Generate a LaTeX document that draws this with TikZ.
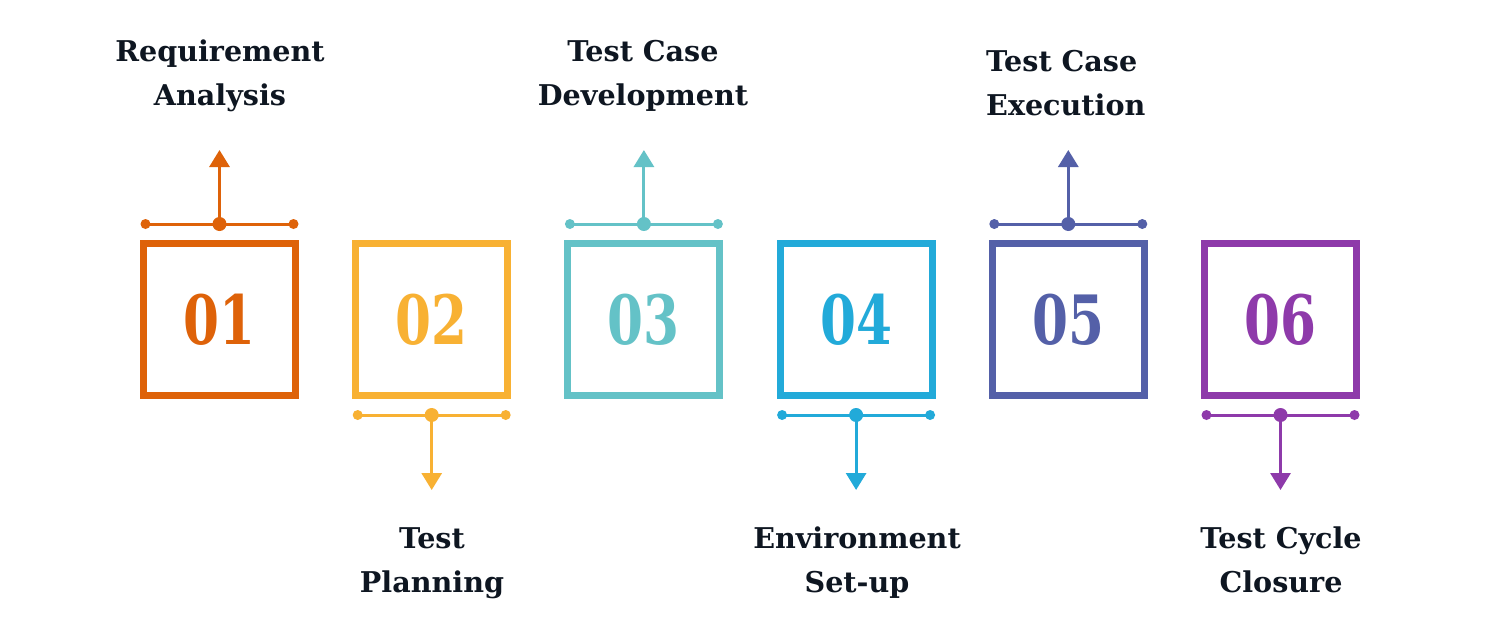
\documentclass[tikz,border=0pt]{standalone}
\usepackage{fontspec}
\usetikzlibrary{arrows.meta}
\newfontfamily\labfont{DejaVu Serif}
\newfontfamily\numfont{DejaVu Serif}[FakeStretch=0.76]
\definecolor{cA}{HTML}{DE6209}
\definecolor{cB}{HTML}{F8B133}
\definecolor{cC}{HTML}{64C2C7}
\definecolor{cD}{HTML}{22AAD9}
\definecolor{cE}{HTML}{5460A8}
\definecolor{cF}{HTML}{8E3AAA}
\definecolor{txt}{HTML}{0E1621}
\begin{document}
\begin{tikzpicture}[x=1pt,y=-1pt,
  stepbox/.style={draw=#1, line width=7pt, minimum size=152pt, inner sep=0pt, outer sep=0pt,
    text=#1, font=\numfont\bfseries\fontsize{68}{68}\selectfont},
  bar/.style={draw=#1, line width=3pt},
  arr/.style={draw=#1, line width=3pt, -{Triangle[length=17pt,width=20pt]}},
  lab/.style={text=txt, align=center, inner sep=0pt, font=\labfont\bfseries\fontsize{28.6}{43.5}\selectfont}
]
\useasboundingbox (0,0) rectangle (1500,635);
\fill[white] (0,0) rectangle (1500,635);

\foreach \i/\c in {1/cA,2/cB,3/cC,4/cD,5/cE,6/cF}{
  \pgfmathsetmacro{\cx}{219.5+212.2*(\i-1)}
  \node[stepbox=\c] (b\i) at (\cx,319.5) {0\i};
}

% top connectors (odd)
\foreach \i/\c in {1/cA,3/cC,5/cE}{
  \coordinate (m\i) at ([yshift=19.5pt]b\i.north);
  \coordinate (l\i) at ([xshift=-74pt]m\i);
  \coordinate (r\i) at ([xshift=74pt]m\i);
  \coordinate (t\i) at ([yshift=74pt]m\i);
  \draw[bar=\c] (l\i) -- (r\i);
  \draw[arr=\c] (m\i) -- (t\i);
  \fill[\c] (l\i) circle (5pt) (r\i) circle (5pt) (m\i) circle (7pt);
}
% bottom connectors (even)
\foreach \i/\c in {2/cB,4/cD,6/cF}{
  \coordinate (m\i) at ([yshift=-19.5pt]b\i.south);
  \coordinate (l\i) at ([xshift=-74pt]m\i);
  \coordinate (r\i) at ([xshift=74pt]m\i);
  \coordinate (t\i) at ([yshift=-75pt]m\i);
  \draw[bar=\c] (l\i) -- (r\i);
  \draw[arr=\c] (m\i) -- (t\i);
  \fill[\c] (l\i) circle (5pt) (r\i) circle (5pt) (m\i) circle (7pt);
}

% anchor=base of a multi-line node = baseline of its last line
\node[lab, anchor=base] (L1) at (220,105) {Requirement\\Analysis};
\node[lab, anchor=base] (L3) at (643,105) {Test Case\\Development};
\node[lab, anchor=base west, align=left] (L5) at (986,115) {Test Case\\Execution};
\node[lab, anchor=base] (L2) at (432,592) {Test\\Planning};
\node[lab, anchor=base] (L4) at (857,592) {Environment\\Set-up};
\node[lab, anchor=base] (L6) at (1281,592) {Test Cycle\\Closure};
\end{tikzpicture}
\end{document}
